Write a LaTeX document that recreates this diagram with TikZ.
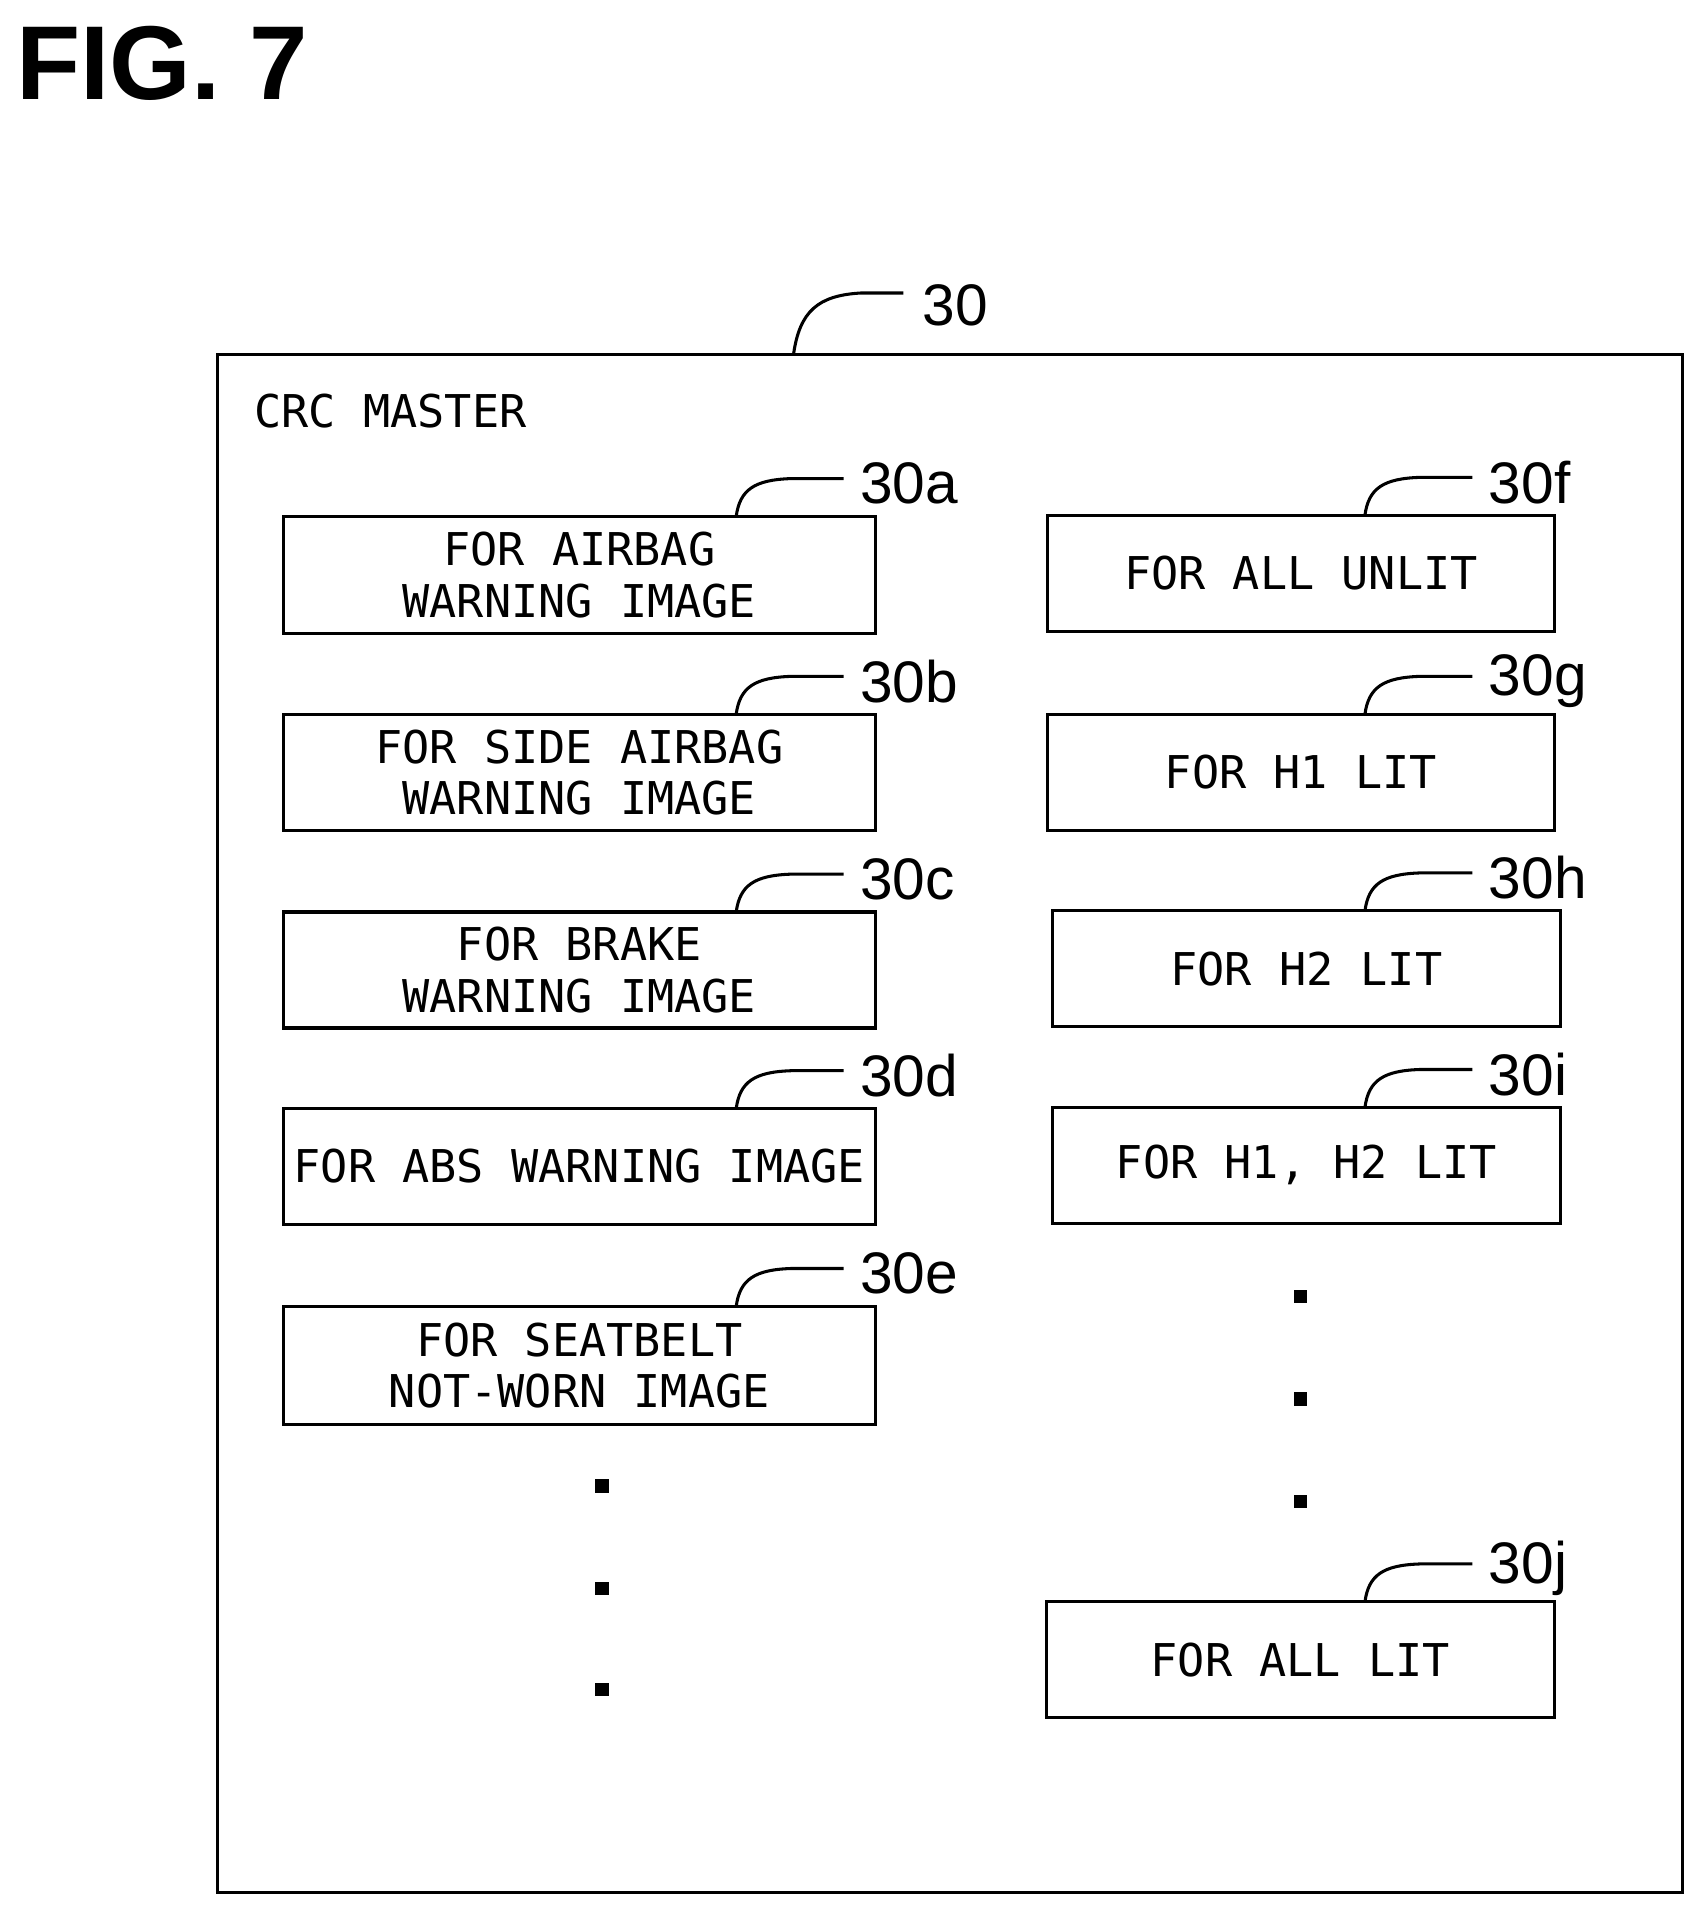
\documentclass[tikz,border=0pt]{standalone}
\usepackage{fontspec}
\usetikzlibrary{calc}
\setmainfont{DejaVu Sans Mono}
\newfontfamily\titlefont{Liberation Sans}
\begin{document}
\begin{tikzpicture}[x=1pt,y=-1pt,
  box/.style={draw,line width=2.5pt},
  txt/.style={font=\fontsize{37}{42}\selectfont,align=center},
  lab/.style={font=\fontsize{48}{50}\selectfont\titlefont,anchor=west},
  dot/.style={fill,minimum size=11pt,inner sep=0pt}]
\useasboundingbox (0,0) rectangle (1390,1562);
\node[anchor=west,font=\fontsize{86}{86}\selectfont\titlefont\bfseries] (title) at (10,52) {FIG. 7};
\draw[line width=2.5pt] (178,290) rectangle (1378,1550);
\coordinate (o) at (650,290);
\draw[line width=2.5pt] (o) .. controls (655,255) and (670,242) .. (705,240) -- (740,240);
\node[lab] (l30) at (752,250) {30};
\node[anchor=west,font=\fontsize{37}{42}\selectfont] (crc) at (205,337) {CRC MASTER};
\foreach \n/\xa/\xb/\ya/\yb/\sx/\t/\l in {
 a/232/717/423/519/603/{FOR AIRBAG\\WARNING IMAGE}/30a,
 b/232/717/585/680/603/{FOR SIDE AIRBAG\\WARNING IMAGE}/30b,
 c/232/717/747/842/603/{FOR BRAKE\\WARNING IMAGE}/30c,
 d/232/717/908/1003/603/{FOR ABS WARNING IMAGE}/30d,
 e/232/717/1070/1167/603/{FOR SEATBELT\\NOT-WORN IMAGE}/30e,
 f/858/1273/422/517/1118/{FOR ALL UNLIT}/30f,
 g/858/1273/585/680/1118/{FOR H1 LIT}/30g,
 h/862/1278/746/841/1118/{FOR H2 LIT}/30h,
 i/862/1278/907/1002/1118/{FOR H1, H2 LIT}/30i,
 j/857/1273/1312/1407/1118/{FOR ALL LIT}/30j}{
  \draw[box] (\xa,\ya) rectangle (\xb,\yb);
  \node[txt] (t\n) at ({(\xa+\xb)/2},{(\ya+\yb)/2}) {\t};
  \coordinate (s\n) at (\sx,\ya);
  \draw[line width=2.5pt] (s\n) .. controls ($(s\n)+(3,-22)$) and ($(s\n)+(15,-30)$) .. ($(s\n)+(45,-31)$) -- ($(s\n)+(88,-31)$);
  \node[lab] (l\n) at ($(s\n)+(98,-27)$) {\l};
}
\foreach \y in {1217,1301,1384} \node[dot] at (493,\y) {};
\foreach \y in {1062,1146,1230} \node[dot] at (1065,\y) {};
\end{tikzpicture}
\end{document}
